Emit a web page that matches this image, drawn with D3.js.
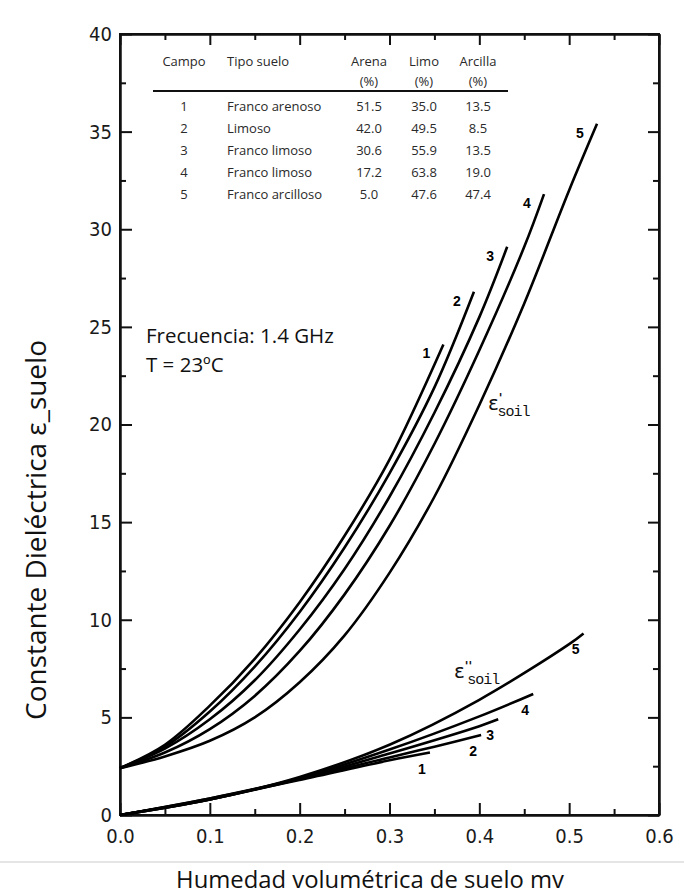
<!DOCTYPE html>
<html>
<head>
<meta charset="utf-8">
<script src="https://cdn.jsdelivr.net/npm/d3@7"></script>
<style>
  body { margin: 0; background: #fff; }
  svg { display: block; }
  .tick text { font-family: "Liberation Sans Narrow", "DejaVu Sans Condensed", "Liberation Sans", sans-serif; font-size: 20px; fill: #1a1a1a; }
</style>
</head>
<body>
<div id="chart"></div>
<script>
// table of soil fields
var campos = ["1", "2", "3", "4", "5"];
var tipoSuelo = ["Franco arenoso", "Limoso", "Franco limoso", "Franco limoso", "Franco arcilloso"];
var arena = ["51.5", "42.0", "30.6", "17.2", "5.0"];
var limo = ["35.0", "49.5", "55.9", "63.8", "47.6"];
var arcilla = ["13.5", "8.5", "13.5", "19.0", "47.4"];

// eps' (real part) per field
var realMv = [
    [0, 0.05, 0.10, 0.15, 0.20, 0.25, 0.30, 0.36],
    [0, 0.05, 0.10, 0.15, 0.20, 0.25, 0.30, 0.35, 0.394],
    [0, 0.05, 0.10, 0.15, 0.20, 0.25, 0.30, 0.35, 0.40, 0.431],
    [0, 0.05, 0.10, 0.15, 0.20, 0.25, 0.30, 0.35, 0.40, 0.45, 0.472],
    [0, 0.05, 0.10, 0.15, 0.20, 0.25, 0.30, 0.35, 0.40, 0.45, 0.50, 0.531]
];
var realEps = [
    [2.4, 3.6, 5.6, 8.0, 10.9, 14.3, 18.2, 24.1],
    [2.4, 3.5, 5.3, 7.6, 10.4, 13.7, 17.5, 21.9, 26.8],
    [2.4, 3.4, 4.9, 6.9, 9.5, 12.6, 16.3, 20.6, 25.5, 29.1],
    [2.4, 3.2, 4.4, 6.1, 8.4, 11.3, 14.8, 19.0, 23.8, 29.1, 31.8],
    [2.4, 3.0, 3.8, 5.0, 6.8, 9.2, 12.4, 16.3, 21.0, 26.2, 32.0, 35.4]
];

// eps'' (imaginary part)
var imagMv = [
    [0, 0.10, 0.20, 0.30, 0.345],
    [0, 0.10, 0.20, 0.30, 0.35, 0.402],
    [0, 0.10, 0.20, 0.30, 0.40, 0.421],
    [0, 0.10, 0.20, 0.30, 0.40, 0.46],
    [0, 0.10, 0.20, 0.30, 0.40, 0.50, 0.516]
];
var imagEps = [
    [0, 0.85, 1.8, 2.8, 3.2],
    [0, 0.85, 1.85, 2.95, 3.5, 4.1],
    [0, 0.8, 1.85, 3.15, 4.55, 4.9],
    [0, 0.8, 1.9, 3.35, 5.05, 6.2],
    [0, 0.8, 1.95, 3.6, 5.9, 8.75, 9.3]
];

var xTicks = [0, 0.1, 0.2, 0.3, 0.4, 0.5, 0.6];
var yTicks = [0, 5, 10, 15, 20, 25, 30, 35, 40];

var W = 684, H = 892;
var mL = 120, mR = 659, mT = 34, mB = 815;

var svg = d3.select("#chart").append("svg")
    .attr("width", W)
    .attr("height", H);

var x = d3.scaleLinear().domain([0, 0.6]).range([mL, mR]);
var y = d3.scaleLinear().domain([0, 40]).range([mB, mT]);

var minorX = [0.05, 0.15, 0.25, 0.35, 0.45, 0.55];
var minorY = [2.5, 7.5, 12.5, 17.5, 22.5, 27.5, 32.5, 37.5];

// frame
svg.append("rect")
    .attr("x", mL).attr("y", mT)
    .attr("width", mR - mL).attr("height", mB - mT)
    .attr("fill", "none").attr("stroke", "#111").attr("stroke-width", 2);

// bottom axis
svg.append("g").attr("transform", "translate(0," + mB + ")")
    .call(d3.axisBottom(x).tickValues(xTicks).tickSizeInner(-12).tickSizeOuter(0).tickPadding(14).tickFormat(d3.format(".1f")));
svg.append("g").attr("transform", "translate(0," + mB + ")")
    .call(d3.axisBottom(x).tickValues(minorX).tickSizeInner(-6).tickSizeOuter(0).tickFormat(""));
// top ticks
svg.append("g").attr("transform", "translate(0," + mT + ")")
    .call(d3.axisTop(x).tickValues(xTicks).tickSizeInner(-11).tickSizeOuter(0).tickFormat(""));
svg.append("g").attr("transform", "translate(0," + mT + ")")
    .call(d3.axisTop(x).tickValues(minorX).tickSizeInner(-6).tickSizeOuter(0).tickFormat(""));

// left axis
svg.append("g").attr("transform", "translate(" + mL + ",0)")
    .call(d3.axisLeft(y).tickValues(yTicks).tickSizeInner(-12).tickSizeOuter(0).tickPadding(8));
svg.append("g").attr("transform", "translate(" + mL + ",0)")
    .call(d3.axisLeft(y).tickValues(minorY).tickSizeInner(-6).tickSizeOuter(0).tickFormat(""));
// right ticks
svg.append("g").attr("transform", "translate(" + mR + ",0)")
    .call(d3.axisRight(y).tickValues(yTicks).tickSizeInner(-11).tickSizeOuter(0).tickFormat(""));
svg.append("g").attr("transform", "translate(" + mR + ",0)")
    .call(d3.axisRight(y).tickValues(minorY).tickSizeInner(-6).tickSizeOuter(0).tickFormat(""));

svg.selectAll(".domain").attr("stroke", "#111").attr("stroke-width", 2);
svg.selectAll(".tick line").attr("stroke", "#111").attr("stroke-width", 2);

// curves
var line = d3.line()
    .x(function (d) { return x(d[0]); })
    .y(function (d) { return y(d[1]); })
    .curve(d3.curveCatmullRom.alpha(0.5));

function pairs(mv, eps) {
    return mv.map(function (m, i) { return [m, eps[i]]; });
}

var realData = realMv.map(function (m, i) { return pairs(m, realEps[i]); });
var imagData = imagMv.map(function (m, i) { return pairs(m, imagEps[i]); });

svg.selectAll("path.real").data(realData).enter().append("path")
    .attr("class", "real")
    .attr("d", line)
    .attr("fill", "none").attr("stroke", "#000").attr("stroke-width", 2.6);

svg.selectAll("path.imag").data(imagData).enter().append("path")
    .attr("class", "imag")
    .attr("d", line)
    .attr("fill", "none").attr("stroke", "#000").attr("stroke-width", 2.6);

// curve numbers
var numFont = "'Liberation Sans', sans-serif";
svg.selectAll("text.rlab").data(realData).enter().append("text")
    .attr("class", "rlab")
    .attr("x", function (d) { return x(d[d.length - 1][0]) - 17; })
    .attr("y", function (d) { return y(d[d.length - 1][1]) + 14; })
    .attr("text-anchor", "middle")
    .style("font-family", numFont).style("font-size", "14px").style("font-weight", "bold")
    .text(function (d, i) { return campos[i]; });

svg.selectAll("text.ilab").data(imagData).enter().append("text")
    .attr("class", "ilab")
    .attr("x", function (d) { return x(d[d.length - 1][0]) - 8; })
    .attr("y", function (d) { return y(d[d.length - 1][1]) + 21; })
    .attr("text-anchor", "middle")
    .style("font-family", numFont).style("font-size", "14px").style("font-weight", "bold")
    .text(function (d, i) { return campos[i]; });

// eps labels
function epsLabel(px, py, primes) {
    var t = svg.append("text").attr("x", px).attr("y", py)
        .style("font-family", "'DejaVu Sans', sans-serif").style("fill", "#111");
    t.append("tspan").style("font-size", "20px").text("ε");
    t.append("tspan").attr("dy", -8).style("font-size", "12px").style("font-weight", "bold").text(primes);
    t.append("tspan").attr("dx", -5).attr("dy", 14).style("font-size", "15px")
        .style("font-family", "'Liberation Mono', monospace").style("letter-spacing", "-1px").text("soil");
}
epsLabel(488, 410, "'");
epsLabel(454, 678, "''");

// fit a text node to a target width
function fitWidth(sel, target) {
    var fs = parseFloat(sel.style("font-size"));
    var w = sel.node().getComputedTextLength();
    sel.style("font-size", (fs * target / w) + "px");
}

// annotation
var f1 = svg.append("text").attr("x", 146).attr("y", 343)
    .style("font-family", "'Open Sans', sans-serif").style("font-size", "18px").style("fill", "#111")
    .text("Frecuencia: 1.4 GHz");
fitWidth(f1, 188);
svg.append("text").attr("x", 146).attr("y", 372)
    .style("font-family", "'Open Sans', sans-serif").style("font-size", f1.style("font-size")).style("fill", "#111")
    .text("T = 23ºC");

// table
var tab = svg.append("g").style("font-family", "'Open Sans', sans-serif").style("font-size", "13px").style("fill", "#2a2a2a");
var colCampo = 184, colTipo = 227, colArena = 369, colLimo = 424, colArcilla = 478;
tab.append("text").attr("x", colCampo).attr("y", 66).attr("text-anchor", "middle").text("Campo");
tab.append("text").attr("x", colTipo).attr("y", 66).text("Tipo suelo");
tab.append("text").attr("x", colArena).attr("y", 66).attr("text-anchor", "middle").text("Arena");
tab.append("text").attr("x", colLimo).attr("y", 66).attr("text-anchor", "middle").text("Limo");
tab.append("text").attr("x", colArcilla).attr("y", 66).attr("text-anchor", "middle").text("Arcilla");
[colArena, colLimo, colArcilla].forEach(function (c) {
    tab.append("text").attr("x", c).attr("y", 86).attr("text-anchor", "middle").text("(%)");
});
tab.append("line").attr("x1", 153).attr("x2", 508).attr("y1", 91).attr("y2", 91)
    .attr("stroke", "#111").attr("stroke-width", 2);

var rowY = d3.scaleBand().domain(campos).range([96, 206]);
var rows = tab.selectAll("g.row").data(campos).enter().append("g")
    .attr("transform", function (d) { return "translate(0," + (rowY(d) + 15) + ")"; });
rows.append("text").attr("x", colCampo).attr("text-anchor", "middle").text(function (d) { return d; });
rows.append("text").attr("x", colTipo).text(function (d, i) { return tipoSuelo[i]; });
rows.append("text").attr("x", colArena).attr("text-anchor", "middle").text(function (d, i) { return arena[i]; });
rows.append("text").attr("x", colLimo).attr("text-anchor", "middle").text(function (d, i) { return limo[i]; });
rows.append("text").attr("x", colArcilla).attr("text-anchor", "middle").text(function (d, i) { return arcilla[i]; });

// axis titles
var yt = svg.append("text")
    .attr("transform", "translate(46,530) rotate(-90)")
    .attr("text-anchor", "middle")
    .style("font-family", "'Open Sans', sans-serif").style("font-size", "20px").style("fill", "#111")
    .text("Constante Dieléctrica  ε_suelo");
fitWidth(yt, 380);

svg.append("line").attr("x1", 0).attr("x2", W).attr("y1", 862).attr("y2", 862)
    .attr("stroke", "#ccc").attr("stroke-width", 1);

var xt = svg.append("text")
    .attr("x", 370).attr("y", 888)
    .attr("text-anchor", "middle")
    .style("font-family", "'Open Sans', sans-serif").style("font-size", "22px").style("fill", "#111")
    .text("Humedad volumétrica de suelo mv");
fitWidth(xt, 388);
</script>
</body>
</html>
